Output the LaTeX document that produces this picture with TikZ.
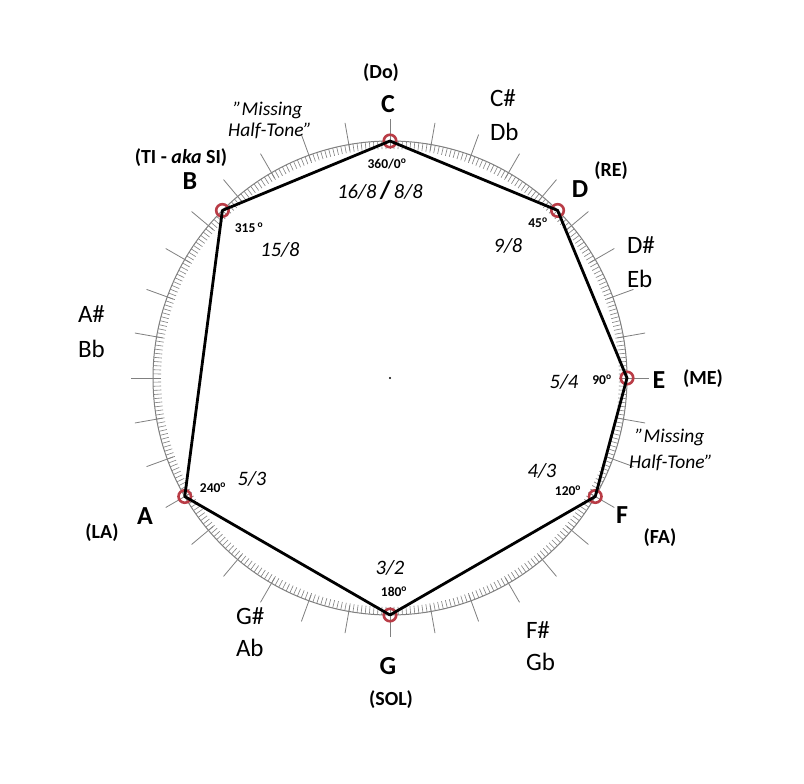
\documentclass[tikz,border=0pt]{standalone}
\usepackage{fontspec}
\setmainfont{Carlito}
\newcommand{\qq}{\symbol{34}}
\begin{document}
\begin{tikzpicture}[x=1pt,y=-1pt,
  every node/.style={inner sep=0pt,outer sep=0pt},
  minortick/.style={draw=black!50,line width=0.6pt},
  majortick/.style={draw=black!50,line width=0.8pt},
  ringline/.style={draw=black!50,line width=1pt},
  vtx/.style={circle,draw={rgb,255:red,185;green,60;blue,70},line width=2.6pt,minimum size=12.5pt},
  poly/.style={draw=black,line width=2.8pt,line join=round},
  note/.style={font=\bfseries\fontsize{26}{26}\selectfont},
  solf/.style={font=\bfseries\fontsize{20}{20}\selectfont},
  acc/.style={font=\fontsize{25}{25}\selectfont,anchor=west},
  ratio/.style={font=\itshape\fontsize{20.5}{20.5}\selectfont},
  deg/.style={font=\bfseries\fontsize{13.5}{13.5}\selectfont},
  miss/.style={font=\itshape\fontsize{19.5}{19.5}\selectfont}]
\useasboundingbox (0,0) rectangle (804,784);
\fill[white] (0,0) rectangle (804,784);
\begin{scope}[shift={(390,378)}]
  \draw[ringline] (0,0) circle[radius=237];
  \foreach \a in {0,...,359} \draw[minortick] (\a:229) -- (\a:237);
  \foreach \a in {0,10,...,350} \draw[majortick] (\a:231) -- (\a:259);
  \node[vtx] (C) at (-90:237) {};
  \node[vtx] (D) at (-45:237) {};
  \node[vtx] (E) at (0:237) {};
  \node[vtx] (F) at (30:237) {};
  \node[vtx] (G) at (90:237) {};
  \node[vtx] (A) at (150:237) {};
  \node[vtx] (B) at (225:237) {};
  \fill[black] (0,0) circle[radius=1.2];
  \node (ctr) at (0,0) {};
\end{scope}
\draw[poly] (C.center) -- (D.center) -- (E.center) -- (F.center) -- (G.center) -- (A.center) -- (B.center) -- cycle;
% note labels
\node[solf] (doL) at (381,73) {(Do)};
\node[note] (cL) at (388,104) {C};
\node[acc] (csL) at (490,98) {C\#};
\node[acc] (dbL) at (490,132) {Db};
\node[miss] (m1a) at (268,110) {\qq Missing};
\node[miss] (m1b) at (270,131) {Half-Tone\qq};
\node[solf] (tiL) at (181,158) {(TI - \textit{aka} SI)};
\node[note] (bL) at (190,181) {B};
\node[note] (dL) at (580,189) {D};
\node[solf] (reL) at (611,171) {(RE)};
\node[deg] (d360) at (387,164) {360/0\textsuperscript{o}};
\node[ratio] (r16) at (380,190) {16/8\,{\upshape\bfseries\fontsize{25}{25}\selectfont /}\,8/8};
\node[deg] (d315) at (249,228) {315\,\textsuperscript{o}};
\node[ratio] (r158) at (280,250) {15/8};
\node[deg] (d45) at (538,223) {45\textsuperscript{o}};
\node[ratio] (r98) at (508,246) {9/8};
\node[acc] (dsL) at (627,245) {D\#};
\node[acc] (ebL) at (627,279) {Eb};
\node[acc] (asL) at (78,314) {A\#};
\node[acc] (bbL) at (78,349) {Bb};
\node[ratio] (r54) at (564,382) {5/4};
\node[deg] (d90) at (602,380) {90\textsuperscript{o}};
\node[note] (eL) at (659,380) {E};
\node[solf] (meL) at (703,379) {(ME)};
\node[miss] (m2a) at (670,437) {\qq Missing};
\node[miss] (m2b) at (671,463) {Half-Tone\qq};
\node[ratio] (r43) at (542,471) {4/3};
\node[deg] (d120) at (568,491) {120\textsuperscript{o}};
\node[note] (fL) at (622,515) {F};
\node[solf] (faL) at (660,538) {(FA)};
\node[deg] (d240) at (213,488) {240\textsuperscript{o}};
\node[ratio] (r53) at (252,479) {5/3};
\node[note] (aL) at (145,516) {A};
\node[solf] (laL) at (102,533) {(LA)};
\node[ratio] (r32) at (390,568) {3/2};
\node[deg] (d180) at (394,592) {180\textsuperscript{o}};
\node[note] (gL) at (388,666) {G};
\node[solf] (solL) at (391,700) {(SOL)};
\node[acc] (gsL) at (236,616) {G\#};
\node[acc] (abL) at (236,648) {Ab};
\node[acc] (fsL) at (526,630) {F\#};
\node[acc] (gbL) at (526,662) {Gb};
\end{tikzpicture}
\end{document}
